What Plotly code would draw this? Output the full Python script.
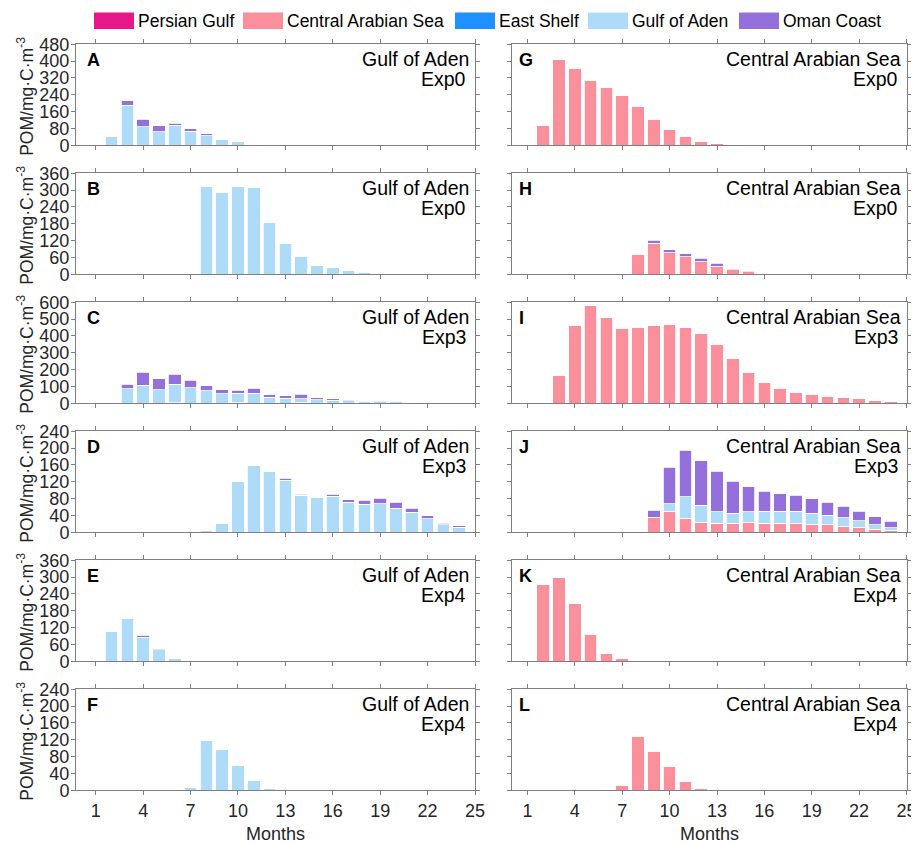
import plotly.graph_objects as go

# Reference canvas size; the page body adds an 8px margin, so the figure is drawn
# 8px smaller and every reference pixel position is shifted by that offset.
W, H = 919, 843
OFF = 8
FW, FH = W - OFF, H - OFF

# ---------------- data ----------------
months = list(range(1, 25))
sources = ["Persian Gulf", "Central Arabian Sea", "East Shelf", "Gulf of Aden", "Oman Coast"]
source_colors = ["#E7198A", "#FC8F9C", "#1E90FF", "#AEDCF8", "#9370DB"]
x_tick_vals = [1, 4, 7, 10, 13, 16, 19, 22, 25]
x_tick_text = ["1", "4", "7", "10", "13", "16", "19", "22", "25"]
zeros = [0] * 24

# Panel A: Gulf of Aden, Exp0
A_gulf_of_aden = [0, 43, 190, 89, 65, 95, 66, 46, 29, 16, 6, 3, 1.5, 1, 0.5, 0.3, 0.2, 0, 0, 0, 0, 0, 0, 0]
A_oman_coast   = [0, 0, 21, 35, 28, 10, 12, 8, 3, 0.5, 0.5, 0.2, 0, 0, 0, 0, 0, 0, 0, 0, 0, 0, 0, 0]
# Panel B: Gulf of Aden, Exp0
B_gulf_of_aden = [0, 0, 0, 0, 0, 0, 0, 312, 291, 313, 310, 186, 108, 62, 33, 24, 15, 6, 4, 2, 1.5, 1, 0.5, 0.3]
# Panel C: Gulf of Aden, Exp3
C_persian_gulf = [0, 0, 0, 0, 0, 2, 0, 0, 0, 2, 0, 0, 0, 3, 0, 0, 0, 0, 0, 0, 0, 0, 0, 0]
C_gulf_of_aden = [0, 2, 85, 107, 80, 111, 91, 73, 56, 58, 60, 36, 30, 23, 22, 18, 14, 10, 10, 8, 6, 4, 3, 2]
C_oman_coast   = [0, 0, 28, 78, 67, 58, 46, 30, 24, 18, 29, 14, 14, 28, 10, 8, 6, 2, 4, 4, 1, 1, 0.5, 0.5]
# Panel D: Gulf of Aden, Exp3
D_gulf_of_aden = [0, 0, 0, 0, 0, 0, 0, 5, 21.5, 121.6, 159, 145.5, 123, 88, 82.7, 86, 71.5, 66, 68, 57, 47, 32, 18, 12]
D_oman_coast   = [0, 0, 0, 0, 0, 0, 0, 0, 0, 0, 0, 0, 5, 2.5, 1.5, 4.5, 5.5, 9.5, 13, 14, 10, 7, 3.5, 3]
# Panel E: Gulf of Aden, Exp4
E_gulf_of_aden = [0, 106, 154, 86, 40.5, 11, 3.5, 1, 0.5, 0, 0, 0, 0, 0, 0, 0, 0, 0, 0, 0, 0, 0, 0, 0]
E_oman_coast   = [0, 0, 1, 6, 3.5, 0, 0, 0, 0, 0, 0, 0, 0, 0, 0, 0, 0, 0, 0, 0, 0, 0, 0, 0]
# Panel F: Gulf of Aden, Exp4
F_gulf_of_aden = [0, 0, 0, 0, 0, 0, 5.5, 119, 97, 58.6, 24, 4, 1, 0.3, 0, 0, 0, 0, 0, 0, 0, 0, 0, 0]
# Panel G: Central Arabian Sea, Exp0
G_central_arabian_sea = [0, 93.5, 410, 366, 309, 274, 236, 184, 123.6, 74.5, 39.6, 19, 6.3, 2, 1, 0.5, 0, 0, 0, 0, 0, 0, 0, 0]
# Panel H: Central Arabian Sea, Exp0
H_central_arabian_sea = [0, 0, 0, 0, 0, 0, 0, 70, 110.5, 76, 61.8, 45, 28.5, 15.4, 9.5, 3.5, 2, 1, 0.5, 0, 0, 0, 0, 0]
H_oman_coast          = [0, 0, 0, 0, 0, 0, 0, 0, 10.5, 10.7, 12, 12, 10.5, 4.6, 2.5, 0.5, 0, 0, 0, 0, 0, 0, 0, 0]
# Panel I: Central Arabian Sea, Exp3
I_central_arabian_sea = [0, 6, 167, 463, 580, 507, 447, 451, 463, 465, 453, 415, 352, 268, 185, 123, 85, 64, 50, 40, 32, 26, 18, 12]
# Panel J: Central Arabian Sea, Exp3
J_central_arabian_sea = [0, 0, 0, 0, 0, 0, 0, 2, 36, 48.5, 33.4, 22.3, 21.5, 21.5, 22.3, 21.5, 21.5, 20.7, 19, 17.5, 14.3, 10.3, 7, 4.8]
J_gulf_of_aden        = [0, 0, 0, 0, 0, 0, 0, 0, 0, 19, 51, 41.3, 27, 23.8, 26.2, 27.8, 28.5, 29.3, 26.3, 23, 20.7, 16.7, 11.3, 6.2]
J_oman_coast          = [0, 0, 0, 0, 0, 0, 0, 0, 16.5, 86.5, 110, 105.7, 96, 76.3, 59.5, 48.5, 41.4, 37.5, 34.2, 31, 27, 23, 18.3, 15]
# Panel K: Central Arabian Sea, Exp4
K_central_arabian_sea = [0, 275, 297, 205, 95, 28.6, 8.3, 2.4, 0.5, 0, 0, 0, 0, 0, 0, 0, 0, 0, 0, 0, 0, 0, 0, 0]
# Panel L: Central Arabian Sea, Exp4
L_central_arabian_sea = [0, 0, 0, 0, 0, 0, 11, 128, 92, 57, 20, 4.8, 1, 0.3, 0, 0, 0, 0, 0, 0, 0, 0, 0, 0]

panels = [
    ("A", "Gulf of Aden", "Exp0", 480, 80, {"Gulf of Aden": A_gulf_of_aden, "Oman Coast": A_oman_coast}),
    ("B", "Gulf of Aden", "Exp0", 360, 60, {"Gulf of Aden": B_gulf_of_aden}),
    ("C", "Gulf of Aden", "Exp3", 600, 100, {"Persian Gulf": C_persian_gulf, "Gulf of Aden": C_gulf_of_aden, "Oman Coast": C_oman_coast}),
    ("D", "Gulf of Aden", "Exp3", 240, 40, {"Gulf of Aden": D_gulf_of_aden, "Oman Coast": D_oman_coast}),
    ("E", "Gulf of Aden", "Exp4", 360, 60, {"Gulf of Aden": E_gulf_of_aden, "Oman Coast": E_oman_coast}),
    ("F", "Gulf of Aden", "Exp4", 240, 40, {"Gulf of Aden": F_gulf_of_aden}),
    ("G", "Central Arabian Sea", "Exp0", 480, 80, {"Central Arabian Sea": G_central_arabian_sea}),
    ("H", "Central Arabian Sea", "Exp0", 360, 60, {"Central Arabian Sea": H_central_arabian_sea, "Oman Coast": H_oman_coast}),
    ("I", "Central Arabian Sea", "Exp3", 600, 100, {"Central Arabian Sea": I_central_arabian_sea}),
    ("J", "Central Arabian Sea", "Exp3", 240, 40, {"Central Arabian Sea": J_central_arabian_sea, "Gulf of Aden": J_gulf_of_aden, "Oman Coast": J_oman_coast}),
    ("K", "Central Arabian Sea", "Exp4", 360, 60, {"Central Arabian Sea": K_central_arabian_sea}),
    ("L", "Central Arabian Sea", "Exp4", 240, 40, {"Central Arabian Sea": L_central_arabian_sea}),
]

y_title = "POM/mg·C·m<sup>-3</sup>"
x_title = "Months"

# ---------------- layout geometry (reference pixels) ----------------
FONT = "Liberation Sans, Arial, sans-serif"
AXIS_GREY = "#7f7f7f"
TICK_TEXT = "#262626"
col_x = [(76, 475), (511.7, 906.5)]
col_range = [[-0.25, 25], [0, 25]]
row_tops = [44.3 + 128.98 * i for i in range(6)]
ROW_H = 101


def px_x(p):
    return (p - OFF) / FW


def px_y(p):
    return 1 - (p - OFF) / FH


fig = go.Figure()
layout_axes = {}
annotations = []

for k, (letter, region, exp, ymax, dtick, data) in enumerate(panels):
    n = k + 1
    col, row = divmod(k, 6)
    xa = "x" if n == 1 else f"x{n}"
    ya = "y" if n == 1 else f"y{n}"
    for s, c in zip(sources, source_colors):
        fig.add_trace(go.Bar(
            x=months, y=data.get(s, zeros), name=s, xaxis=xa, yaxis=ya,
            marker=dict(color=c, line=dict(color="white", width=0.8)),
            width=0.8, showlegend=False,
        ))
    x0, x1 = col_x[col]
    top = row_tops[row]
    bot = top + ROW_H
    common = dict(
        showline=True, linecolor=AXIS_GREY, linewidth=1, mirror="ticks",
        ticks="outside", ticklen=4, tickcolor=AXIS_GREY, tickwidth=1,
        showgrid=False, zeroline=False, ticklabeloverflow="allow",
        tickfont=dict(family=FONT, size=18, color=TICK_TEXT),
    )
    layout_axes["xaxis" if n == 1 else f"xaxis{n}"] = dict(
        common, domain=[px_x(x0), px_x(x1)], range=col_range[col],
        anchor=ya, tickmode="array", tickvals=x_tick_vals, ticktext=x_tick_text,
        showticklabels=(row == 5),
    )
    layout_axes["yaxis" if n == 1 else f"yaxis{n}"] = dict(
        common, domain=[px_y(bot), px_y(top)], range=[0, ymax], dtick=dtick,
        tick0=0, anchor=xa, showticklabels=(col == 0), ticklabelstandoff=-2,
    )
    xref_d = f"{xa} domain"
    yref_d = f"{ya} domain"
    annotations.append(dict(
        text=f"<b>{letter}</b>", xref=xa, yref=yref_d, x=0.35, y=1,
        xanchor="left", yanchor="top", yshift=-4, showarrow=False,
        font=dict(family=FONT, size=18, color="black"),
    ))
    annotations.append(dict(
        text=region, xref=xref_d, yref=yref_d, x=1, y=1,
        xanchor="right", yanchor="top", xshift=-4, yshift=-2, showarrow=False,
        font=dict(family=FONT, size=19.5, color="black"),
    ))
    annotations.append(dict(
        text=exp, xref=xref_d, yref=yref_d, x=1, y=1,
        xanchor="right", yanchor="top", xshift=-7, yshift=-21.5, showarrow=False,
        font=dict(family=FONT, size=19.5, color="black"),
    ))
    if col == 0:
        annotations.append(dict(
            text=y_title, xref="paper", yref="paper", x=px_x(25),
            y=px_y((top + bot) / 2 + 2), xanchor="center", yanchor="middle",
            textangle=-90, showarrow=False,
            font=dict(family=FONT, size=17.5, color=TICK_TEXT),
        ))
    if row == 5:
        annotations.append(dict(
            text=x_title, xref="paper", yref="paper", x=px_x((x0 + x1) / 2),
            y=px_y(834), xanchor="center", yanchor="middle", showarrow=False,
            font=dict(family=FONT, size=18, color=TICK_TEXT),
        ))

# ---------------- legend (drawn) ----------------
legend_swatch_x = [94, 243, 455, 588, 739]
shapes = []
for s, c, sx in zip(sources, source_colors, legend_swatch_x):
    shapes.append(dict(
        type="rect", xref="paper", yref="paper",
        x0=px_x(sx), x1=px_x(sx + 40), y0=px_y(29), y1=px_y(12.5),
        fillcolor=c, line=dict(width=0),
    ))
    annotations.append(dict(
        text=s, xref="paper", yref="paper", x=px_x(sx + 42), y=px_y(21),
        xanchor="left", yanchor="middle", showarrow=False,
        font=dict(family=FONT, size=17.5, color="black"),
    ))

fig.update_layout(
    width=FW, height=FH, barmode="stack", bargap=0.2,
    margin=dict(l=0, r=0, t=0, b=0, autoexpand=False),
    paper_bgcolor="white", plot_bgcolor="white",
    font=dict(family=FONT, size=17, color=TICK_TEXT),
    showlegend=False, annotations=annotations, shapes=shapes,
    **layout_axes,
)

fig.write_html("out.html")
